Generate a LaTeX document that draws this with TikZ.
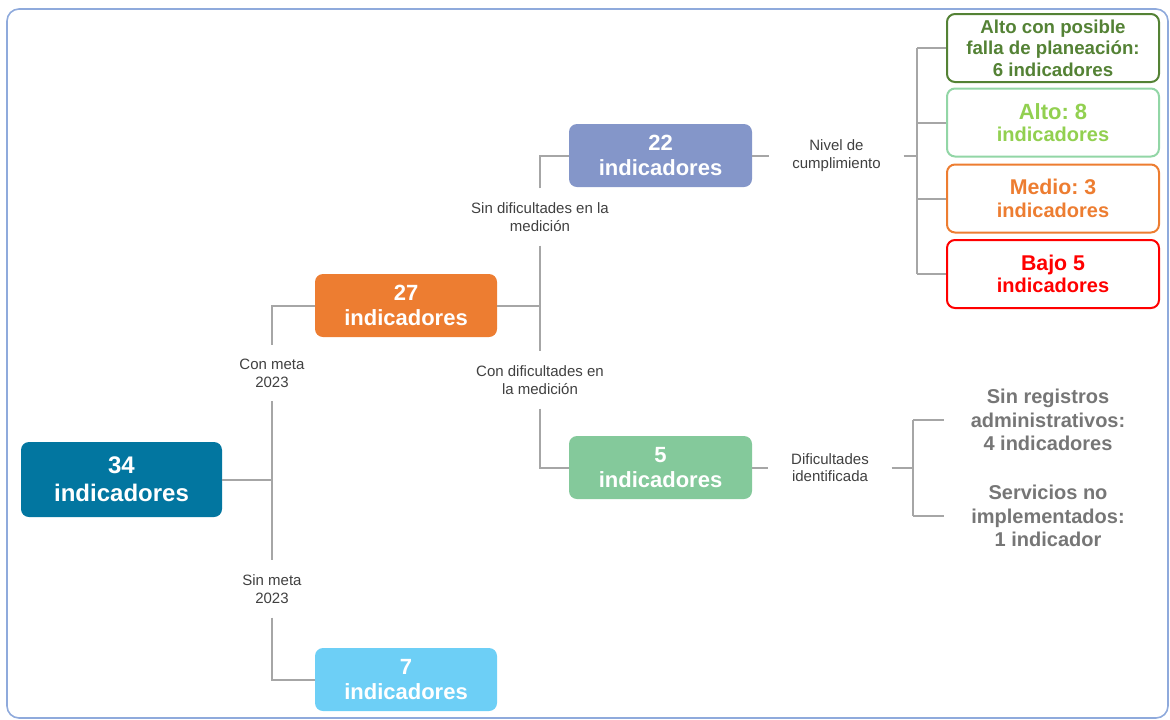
\documentclass[tikz,border=0pt]{standalone}
\usepackage{fontspec}
\setmainfont{Liberation Sans}
\frenchspacing
\definecolor{azultotal}{RGB}{2,118,160}
\definecolor{naranja}{RGB}{237,125,49}
\definecolor{celeste}{RGB}{109,207,246}
\definecolor{lavanda}{RGB}{132,150,201}
\definecolor{verdeagua}{RGB}{132,201,155}
\definecolor{verdeosc}{RGB}{84,130,53}
\definecolor{verdeclaro}{RGB}{146,208,80}
\definecolor{mentaborde}{RGB}{146,214,166}
\definecolor{rojo}{RGB}{255,0,0}
\definecolor{grisdif}{RGB}{118,118,118}
\definecolor{etiq}{RGB}{64,64,64}
\definecolor{linea}{RGB}{166,166,166}
\definecolor{marco}{RGB}{143,170,220}
\begin{document}
\begin{tikzpicture}[x=0.75pt,y=-0.75pt,
  caja/.style={rounded corners=6pt,minimum width=136.5pt,minimum height=47.25pt,inner sep=0pt,align=center,text=white,font=\fontsize{16.5}{19}\selectfont\bfseries},
  nivelbox/.style={draw,line width=1.5pt,rounded corners=6pt,fill=white,minimum width=159pt,minimum height=51pt,inner sep=0pt,align=center,font=\fontsize{15}{17}\selectfont\bfseries},
  etiqueta/.style={align=center,inner xsep=17pt,inner ysep=10.5pt,text=etiq,font=\fontsize{11.25}{13.3}\selectfont},
  gristexto/.style={align=center,minimum width=159pt,inner sep=0pt,text=grisdif,font=\fontsize{15}{17.5}\selectfont\bfseries},
  conn/.style={draw=linea,line width=1.5pt}]
\pgfmathsetmacro{\xtronco}{272}
\pgfmathsetmacro{\xrama}{540}
\pgfmathsetmacro{\xcaja}{406}
\pgfmathsetmacro{\xsub}{660.5}
\pgfmathsetmacro{\xnivel}{1053}
  \useasboundingbox (0,0) rectangle (1170,719);
  \draw[marco,line width=1.2pt,rounded corners=9pt] (7,9) rectangle (1168,718);
  \node[caja,fill=azultotal,minimum width=150.75pt,minimum height=56.25pt,font=\fontsize{18}{21}\selectfont\bfseries] (total) at (121.5,479.5) {34\\indicadores};
  \node[caja,fill=naranja] (conMeta) at (\xcaja,305.5) {27\\indicadores};
  \node[caja,fill=celeste] (sinMeta) at (\xcaja,679.5) {7\\indicadores};
  \node[caja,fill=lavanda,minimum width=137.25pt] (sinDif) at (\xsub,155.5) {22\\indicadores};
  \node[caja,fill=verdeagua,minimum width=137.25pt] (conDif) at (\xsub,467.5) {5\\indicadores};
  \node[etiqueta] (lConMeta) at (\xtronco,373) {Con meta\\2023};
  \node[etiqueta] (lSinMeta) at (\xtronco,589) {Sin meta\\2023};
  \node[etiqueta] (lSinDif) at (\xrama,217) {Sin dificultades en la\\medición};
  \node[etiqueta] (lConDif) at (\xrama,380) {Con dificultades en\\la medición};
  \node[etiqueta] (lNivel) at (836.5,155.5) {Nivel de\\cumplimiento};
  \node[etiqueta] (lDific) at (830,467.5) {Dificultades\\identificada};
  \node[nivelbox,draw=verdeosc,text=verdeosc,font=\fontsize{14}{16}\selectfont\bfseries] (altoPos) at (\xnivel,48) {Alto con posible\\falla de planeación:\\6 indicadores};
  \node[nivelbox,draw=mentaborde,text=verdeclaro] (alto) at (\xnivel,122.5) {{\fontsize{16.5}{19}\selectfont Alto: 8}\\indicadores};
  \node[nivelbox,draw=naranja,text=naranja] (medio) at (\xnivel,198.5) {{\fontsize{16}{19}\selectfont Medio: 3}\\indicadores};
  \node[nivelbox,draw=rojo,text=rojo] (bajo) at (\xnivel,274) {{\fontsize{16}{19}\selectfont Bajo 5}\\indicadores};
  \node[gristexto] (sinReg) at (1048,420) {Sin registros\\administrativos:\\4 indicadores};
  \node[gristexto] (servicios) at (1048,516) {Servicios no\\implementados:\\1 indicador};
  \coordinate (fkA) at (917,155.5);
  \coordinate (fkB) at (913,467.5);
  \draw[conn] (lConMeta.south) -- (lSinMeta.north);
  \draw[conn] (total.east) -- (total.east -| lConMeta.south);
  \draw[conn] (lConMeta.north) |- (conMeta.west);
  \draw[conn] (lSinMeta.south) |- (sinMeta.west);
  \draw[conn] (lSinDif.south) -- (lConDif.north);
  \draw[conn] (conMeta.east) -- (conMeta.east -| lSinDif.south);
  \draw[conn] (lSinDif.north) |- (sinDif.west);
  \draw[conn] (lConDif.south) |- (conDif.west);
  \draw[conn] (sinDif.east) -- (lNivel.west);
  \draw[conn] (lNivel.east) -- (fkA);
  \draw[conn] (fkA |- altoPos.west) -- (fkA |- bajo.west);
  \foreach \b in {altoPos,alto,medio,bajo}
    \draw[conn] (fkA |- \b.west) -- (\b.west);
  \draw[conn] (conDif.east) -- (lDific.west);
  \draw[conn] (lDific.east) -- (fkB);
  \draw[conn] (fkB |- sinReg.west) -- (fkB |- servicios.west);
  \foreach \b in {sinReg,servicios}
    \draw[conn] (fkB |- \b.west) -- ([xshift=1.5pt]\b.west);
\end{tikzpicture}
\end{document}
